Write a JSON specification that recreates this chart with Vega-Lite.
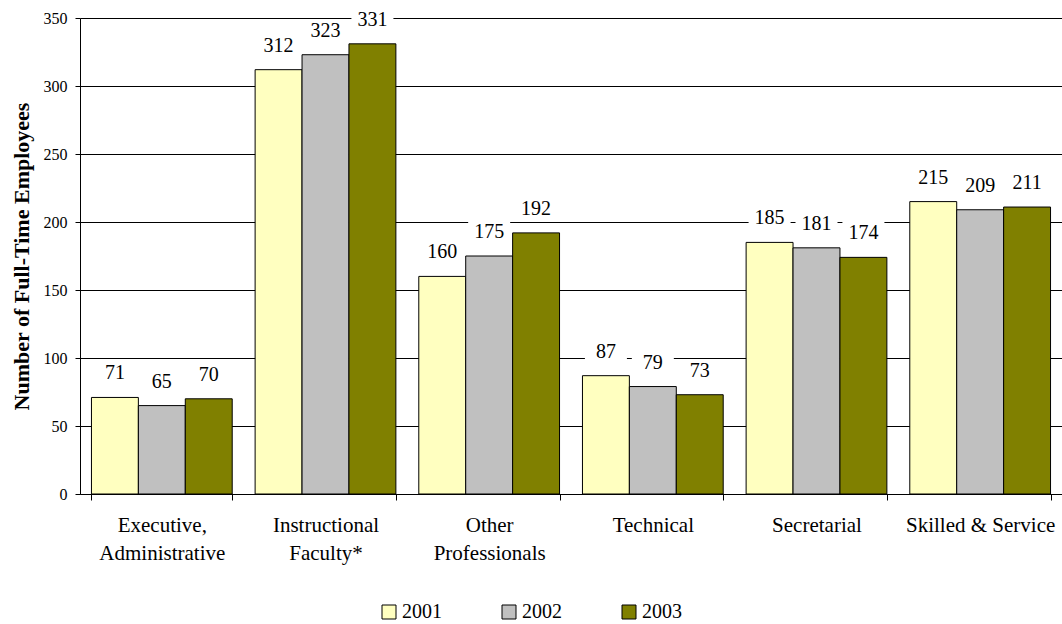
{
  "$schema": "https://vega.github.io/schema/vega-lite/v6.json",
  "width": 982,
  "height": 476,
  "autosize": "none",
  "padding": {"left": 80, "top": 18, "right": 0, "bottom": 130},
  "background": "white",
  "config": {
    "font": "Liberation Serif",
    "view": {"stroke": null},
    "axis": {"domainColor": "black", "tickColor": "black", "labelColor": "black", "titleColor": "black", "labelFont": "Liberation Serif", "titleFont": "Liberation Serif"},
    "legend": {"labelFont": "Liberation Serif"}
  },
  "data": {
    "values": [
      {"category": "Executive, Administrative", "year": "2001", "value": 71},
      {"category": "Executive, Administrative", "year": "2002", "value": 65},
      {"category": "Executive, Administrative", "year": "2003", "value": 70},
      {"category": "Instructional Faculty*", "year": "2001", "value": 312},
      {"category": "Instructional Faculty*", "year": "2002", "value": 323},
      {"category": "Instructional Faculty*", "year": "2003", "value": 331},
      {"category": "Other Professionals", "year": "2001", "value": 160},
      {"category": "Other Professionals", "year": "2002", "value": 175},
      {"category": "Other Professionals", "year": "2003", "value": 192},
      {"category": "Technical", "year": "2001", "value": 87},
      {"category": "Technical", "year": "2002", "value": 79},
      {"category": "Technical", "year": "2003", "value": 73},
      {"category": "Secretarial", "year": "2001", "value": 185},
      {"category": "Secretarial", "year": "2002", "value": 181},
      {"category": "Secretarial", "year": "2003", "value": 174},
      {"category": "Skilled & Service", "year": "2001", "value": 215},
      {"category": "Skilled & Service", "year": "2002", "value": 209},
      {"category": "Skilled & Service", "year": "2003", "value": 211}
    ]
  },
  "encoding": {
    "x": {
      "field": "category",
      "type": "nominal",
      "sort": null,
      "scale": {"paddingInner": 0.14, "paddingOuter": 0.07},
      "axis": {
        "title": null,
        "labelAngle": 0,
        "labelFontSize": 21,
        "labelLineHeight": 28,
        "labelPadding": 14,
        "labelBaseline": "top",
        "tickBand": "extent",
        "tickSize": 6,
        "grid": false,
        "labelExpr": "datum.value == 'Executive, Administrative' ? ['Executive,', 'Administrative'] : datum.value == 'Instructional Faculty*' ? ['Instructional', 'Faculty*'] : datum.value == 'Other Professionals' ? ['Other', 'Professionals'] : datum.value"
      }
    },
    "xOffset": {"field": "year", "type": "nominal"},
    "y": {
      "field": "value",
      "type": "quantitative",
      "scale": {"domain": [0, 350]},
      "axis": {
        "title": "Number of Full-Time Employees",
        "titleFontSize": 22,
        "titleFontWeight": "bold",
        "titlePadding": 10,
        "labelFontSize": 16,
        "labelPadding": 8,
        "tickSize": 5,
        "values": [0, 50, 100, 150, 200, 250, 300, 350],
        "grid": true,
        "gridColor": "black",
        "gridOpacity": 1,
        "gridWidth": 1
      }
    }
  },
  "layer": [
    {
      "mark": {"type": "bar", "stroke": "black", "strokeWidth": 1},
      "encoding": {
        "color": {
          "field": "year",
          "type": "nominal",
          "scale": {"domain": ["2001", "2002", "2003"], "range": ["#FFFFC0", "#C0C0C0", "#808000"]},
          "legend": {
            "title": null,
            "orient": "none",
            "direction": "horizontal",
            "legendX": 299,
            "legendY": 584,
            "symbolType": "square",
            "symbolSize": 196,
            "symbolStrokeColor": "black",
            "symbolStrokeWidth": 1,
            "symbolOpacity": 1,
            "labelFontSize": 20,
            "labelColor": "black",
            "labelOffset": 3,
            "columnPadding": 57,
            "padding": 0
          }
        }
      }
    },
    {
      "mark": {"type": "point", "shape": "M-1,-0.55H1V0.55H-1Z", "size": 1764, "filled": true, "fill": "white", "opacity": 1, "strokeWidth": 0, "yOffset": -24},
      "encoding": {}
    },
    {
      "mark": {"type": "text", "font": "Liberation Serif", "fontSize": 20, "color": "black", "baseline": "middle", "yOffset": -24},
      "encoding": {"text": {"field": "value", "type": "quantitative"}}
    }
  ]
}
